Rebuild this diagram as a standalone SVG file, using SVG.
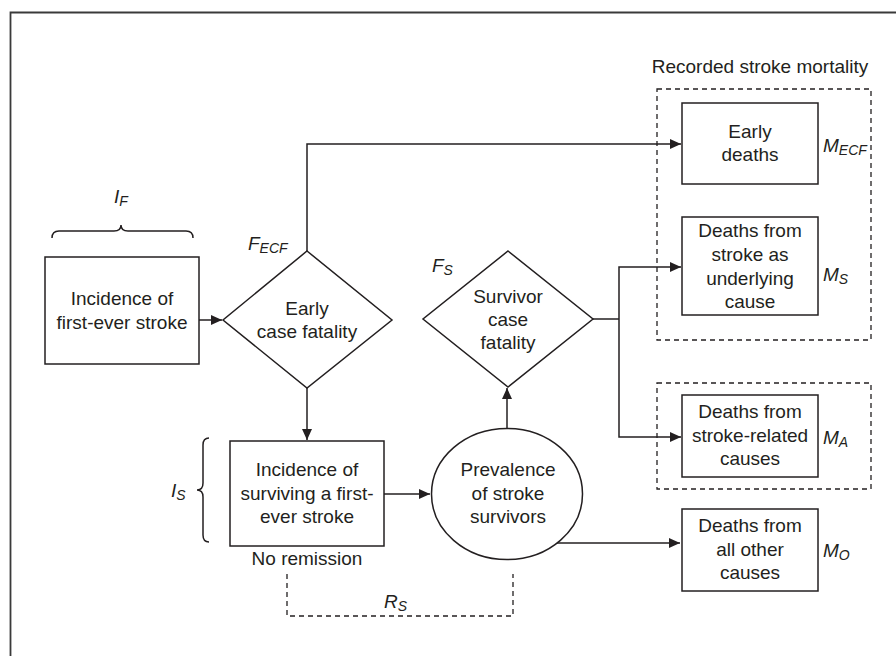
<svg xmlns="http://www.w3.org/2000/svg" width="896" height="656" viewBox="0 0 896 656">
<defs>
<marker id="arr" viewBox="0 0 11 10" refX="11" refY="5" markerWidth="11" markerHeight="10" markerUnits="userSpaceOnUse" orient="auto">
<path d="M0,0 L11,5 L0,10 Z" fill="#231f20"/>
</marker>
</defs>
<style>
.t{font-family:"Liberation Sans",Arial,sans-serif;font-size:19px;fill:#231f20;text-anchor:middle}
.v{font-family:"Liberation Sans",Arial,sans-serif;font-size:19px;font-style:italic;fill:#231f20}
.sub{font-size:14px}
.n{fill:#fff;stroke:#231f20;stroke-width:1.5}
.c{fill:none;stroke:#231f20;stroke-width:1.5}
.a{marker-end:url(#arr)}
.d{fill:none;stroke:#231f20;stroke-width:1.3;stroke-dasharray:5,4}
</style>
<rect width="896" height="656" fill="#fff"/>
<path d="M10.5,656 L10.5,12.5 L896,12.5" fill="none" stroke="#3a3a3a" stroke-width="1.8"/>

<g id="group-recorded">
<rect x="657" y="89" width="214" height="251" class="d"/>
<text x="760" y="73" class="t">Recorded stroke mortality</text>
</g>
<g id="group-related">
<rect x="657" y="383" width="214" height="106" class="d"/>
</g>

<g id="connectors">
<line x1="199" y1="320" x2="222" y2="320" class="c a"/>
<polyline points="307,251 307,144 681,144" class="c a"/>
<line x1="307" y1="388" x2="307" y2="440" class="c a"/>
<line x1="384" y1="494" x2="430" y2="494" class="c a"/>
<line x1="507" y1="429" x2="507" y2="388" class="c a"/>
<polyline points="593,319 619,319" class="c"/>
<polyline points="619,319 619,267 681,267" class="c a"/>
<polyline points="619,319 619,437 681,437" class="c a"/>
<line x1="556" y1="543" x2="680" y2="543" class="c a"/>
<polyline points="287,574 287,616 513,616 513,574" class="d"/>
<text x="384" y="608" class="v">R<tspan class="sub" dy="3">S</tspan></text>
<text x="307" y="565" class="t">No remission</text>
</g>

<g id="brace-if">
<path d="M52,238 Q52,231 59,231 L114,231 Q121,231 121,225 Q121,231 128,231 L186,231 Q193,231 193,238" class="c" stroke-width="1.3"/>
<text x="114" y="203" class="v">I<tspan class="sub" dy="3">F</tspan></text>
</g>

<g id="brace-is">
<path d="M209,438 Q203,438 203,445 L203,483 Q203,490 197,490 Q203,490 203,497 L203,535 Q203,542 209,542" class="c" stroke-width="1.3"/>
<text x="171" y="497" class="v">I<tspan class="sub" dy="3">S</tspan></text>
</g>

<g id="node-incidence-first">
<rect x="45" y="257" width="154" height="107" class="n"/>
<text x="122" y="305" class="t">Incidence of</text>
<text x="122" y="329" class="t">first-ever stroke</text>
</g>

<g id="node-early-cf">
<polygon points="307,251 392,320 307,388 223,320" class="n"/>
<text x="307" y="315" class="t">Early</text>
<text x="307" y="338" class="t">case fatality</text>
<text x="248" y="250" class="v">F<tspan class="sub" dy="3">ECF</tspan></text>
</g>

<g id="node-survivor-cf">
<polygon points="508,251 593,319 508,387 423,319" class="n"/>
<text x="508" y="303" class="t">Survivor</text>
<text x="508" y="326" class="t">case</text>
<text x="508" y="349" class="t">fatality</text>
<text x="432" y="272" class="v">F<tspan class="sub" dy="3">S</tspan></text>
</g>

<g id="node-incidence-surviving">
<rect x="230" y="441" width="154" height="105" class="n"/>
<text x="307" y="476" class="t">Incidence of</text>
<text x="307" y="500" class="t">surviving a first-</text>
<text x="307" y="523" class="t">ever stroke</text>
</g>

<g id="node-prevalence">
<ellipse cx="507" cy="494" rx="75.5" ry="65.5" class="n"/>
<text x="508" y="476" class="t">Prevalence</text>
<text x="508" y="500" class="t">of stroke</text>
<text x="508" y="523" class="t">survivors</text>
</g>

<g id="node-early-deaths">
<rect x="682" y="103" width="136" height="81" class="n"/>
<text x="750" y="138" class="t">Early</text>
<text x="750" y="161" class="t">deaths</text>
<text x="823" y="152" class="v">M<tspan class="sub" dy="3">ECF</tspan></text>
</g>

<g id="node-deaths-underlying">
<rect x="682" y="217" width="136" height="98" class="n"/>
<text x="750" y="237" class="t">Deaths from</text>
<text x="750" y="261" class="t">stroke as</text>
<text x="750" y="285" class="t">underlying</text>
<text x="750" y="308" class="t">cause</text>
<text x="823" y="281" class="v">M<tspan class="sub" dy="3">S</tspan></text>
</g>

<g id="node-deaths-related">
<rect x="682" y="395" width="136" height="82" class="n"/>
<text x="750" y="418" class="t">Deaths from</text>
<text x="750" y="442" class="t">stroke-related</text>
<text x="750" y="465" class="t">causes</text>
<text x="823" y="444" class="v">M<tspan class="sub" dy="3">A</tspan></text>
</g>

<g id="node-deaths-other">
<rect x="682" y="509" width="136" height="82" class="n"/>
<text x="750" y="532" class="t">Deaths from</text>
<text x="750" y="556" class="t">all other</text>
<text x="750" y="579" class="t">causes</text>
<text x="823" y="557" class="v">M<tspan class="sub" dy="3">O</tspan></text>
</g>
</svg>
